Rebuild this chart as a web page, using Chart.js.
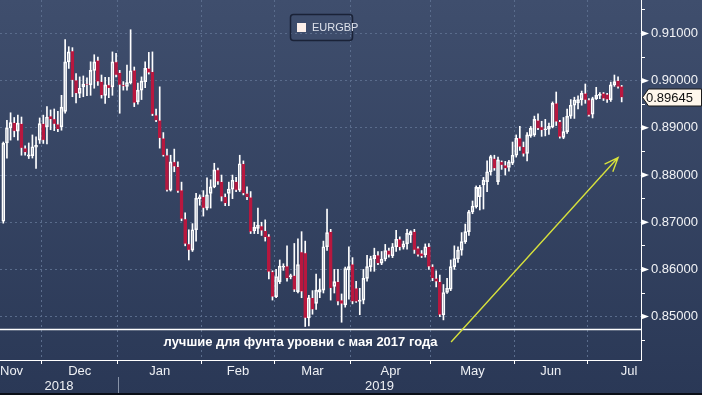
<!DOCTYPE html>
<html>
<head>
<meta charset="utf-8">
<script src="https://cdn.jsdelivr.net/npm/chart.js@4.4.1/dist/chart.umd.min.js"></script>
<style>
  html, body { margin: 0; padding: 0; background: #2e3c5a; }
  #wrap { width: 702px; height: 395px; }
</style>
</head>
<body>
<div id="wrap"><canvas id="chart1" width="702" height="395"></canvas></div>
<script>
// EURGBP daily candles, mid Nov 2018 - mid Jul 2019
const seriesName = 'EURGBP';

const opens = [
  0.8702, 0.8868, 0.8900, 0.8911, 0.8893, 0.8909, 0.8857, 0.8840, 0.8841, 0.8859,
  0.8874, 0.8909, 0.8902, 0.8925, 0.8919, 0.8908, 0.8902, 0.8935, 0.9040, 0.9063,
  0.9001, 0.8973, 0.8987, 0.8993, 0.8991, 0.9022, 0.9043, 0.8998, 0.8969, 0.8991,
  0.8987, 0.9040, 0.9017, 0.8991, 0.8988, 0.8996, 0.9022, 0.8955, 0.8980, 0.8998,
  0.9026, 0.9019, 0.8927, 0.8916, 0.8878, 0.8842, 0.8768, 0.8828, 0.8818, 0.8768,
  0.8707, 0.8654, 0.8641, 0.8684, 0.8750, 0.8754, 0.8730, 0.8761, 0.8775, 0.8811,
  0.8786, 0.8754, 0.8761, 0.8770, 0.8786, 0.8768, 0.8824, 0.8761, 0.8753, 0.8682,
  0.8687, 0.8692, 0.8682, 0.8670, 0.8595, 0.8542, 0.8574, 0.8605, 0.8607, 0.8584,
  0.8587, 0.8553, 0.8637, 0.8635, 0.8497, 0.8540, 0.8528, 0.8552, 0.8556, 0.8648,
  0.8680, 0.8564, 0.8574, 0.8535, 0.8525, 0.8599, 0.8611, 0.8560, 0.8532, 0.8535,
  0.8581, 0.8606, 0.8623, 0.8630, 0.8613, 0.8622, 0.8640, 0.8629, 0.8648, 0.8664,
  0.8647, 0.8654, 0.8673, 0.8680, 0.8645, 0.8634, 0.8631, 0.8648, 0.8606, 0.8581,
  0.8574, 0.8504, 0.8551, 0.8558, 0.8606, 0.8622, 0.8641, 0.8659, 0.8680, 0.8722,
  0.8733, 0.8754, 0.8779, 0.8786, 0.8807, 0.8835, 0.8786, 0.8828, 0.8821, 0.8816,
  0.8825, 0.8842, 0.8878, 0.8860, 0.8846, 0.8883, 0.8885, 0.8916, 0.8902, 0.8896,
  0.8897, 0.8902, 0.8952, 0.8913, 0.8880, 0.8892, 0.8925, 0.8948, 0.8953, 0.8960,
  0.8973, 0.8959, 0.8929, 0.8962, 0.8969, 0.8973, 0.8971, 0.8960, 0.8991, 0.9000,
  0.8988
];
const highs = [
  0.8870, 0.8916, 0.8932, 0.8922, 0.8927, 0.8923, 0.8862, 0.8868, 0.8885, 0.8881,
  0.8921, 0.8927, 0.8945, 0.8938, 0.8940, 0.8935, 0.8969, 0.9087, 0.9072, 0.9070,
  0.9015, 0.9008, 0.9010, 0.9006, 0.9040, 0.9055, 0.9050, 0.9012, 0.9007, 0.9007,
  0.9061, 0.9058, 0.9022, 0.8998, 0.9033, 0.9108, 0.9029, 0.8995, 0.9008, 0.9040,
  0.9060, 0.9061, 0.8940, 0.8987, 0.8890, 0.8855, 0.8842, 0.8855, 0.8828, 0.8785,
  0.8720, 0.8684, 0.8697, 0.8761, 0.8758, 0.8767, 0.8794, 0.8790, 0.8825, 0.8815,
  0.8800, 0.8760, 0.8785, 0.8800, 0.8795, 0.8842, 0.8830, 0.8775, 0.8765, 0.8700,
  0.8730, 0.8700, 0.8705, 0.8674, 0.8597, 0.8600, 0.8620, 0.8612, 0.8650, 0.8590,
  0.8655, 0.8665, 0.8680, 0.8660, 0.8545, 0.8555, 0.8590, 0.8580, 0.8660, 0.8728,
  0.8685, 0.8600, 0.8600, 0.8548, 0.8605, 0.8648, 0.8625, 0.8575, 0.8560, 0.8600,
  0.8630, 0.8628, 0.8645, 0.8638, 0.8638, 0.8653, 0.8645, 0.8655, 0.8683, 0.8669,
  0.8660, 0.8685, 0.8682, 0.8685, 0.8648, 0.8640, 0.8654, 0.8655, 0.8610, 0.8597,
  0.8588, 0.8568, 0.8581, 0.8620, 0.8650, 0.8648, 0.8678, 0.8696, 0.8725, 0.8745,
  0.8777, 0.8778, 0.8795, 0.8830, 0.8842, 0.8842, 0.8838, 0.8830, 0.8829, 0.8831,
  0.8870, 0.8885, 0.8903, 0.8870, 0.8890, 0.8903, 0.8925, 0.8930, 0.8914, 0.8918,
  0.8910, 0.8955, 0.8976, 0.8916, 0.8922, 0.8940, 0.8960, 0.8965, 0.8968, 0.8978,
  0.8993, 0.8962, 0.8965, 0.8986, 0.8975, 0.8975, 0.8973, 0.8997, 0.9012, 0.9008,
  0.8990
];
const lows = [
  0.8698, 0.8836, 0.8874, 0.8881, 0.8874, 0.8842, 0.8842, 0.8835, 0.8836, 0.8814,
  0.8867, 0.8867, 0.8866, 0.8896, 0.8894, 0.8892, 0.8895, 0.8931, 0.9026, 0.8966,
  0.8953, 0.8964, 0.8966, 0.8968, 0.8969, 0.8984, 0.8990, 0.8963, 0.8952, 0.8964,
  0.8969, 0.9008, 0.8931, 0.8980, 0.8980, 0.8993, 0.8945, 0.8950, 0.8960, 0.8985,
  0.9014, 0.8926, 0.8913, 0.8857, 0.8840, 0.8766, 0.8766, 0.8807, 0.8763, 0.8703,
  0.8650, 0.8620, 0.8638, 0.8660, 0.8736, 0.8713, 0.8726, 0.8730, 0.8773, 0.8780,
  0.8745, 0.8735, 0.8735, 0.8750, 0.8765, 0.8765, 0.8758, 0.8748, 0.8676, 0.8676,
  0.8676, 0.8672, 0.8660, 0.8580, 0.8535, 0.8540, 0.8570, 0.8598, 0.8575, 0.8580,
  0.8553, 0.8550, 0.8540, 0.8479, 0.8480, 0.8505, 0.8515, 0.8540, 0.8550, 0.8640,
  0.8535, 0.8550, 0.8525, 0.8488, 0.8520, 0.8537, 0.8527, 0.8530, 0.8504, 0.8527,
  0.8575, 0.8596, 0.8596, 0.8610, 0.8610, 0.8618, 0.8626, 0.8625, 0.8638, 0.8641,
  0.8643, 0.8643, 0.8657, 0.8634, 0.8628, 0.8625, 0.8626, 0.8600, 0.8576, 0.8563,
  0.8500, 0.8493, 0.8549, 0.8555, 0.8600, 0.8615, 0.8630, 0.8655, 0.8672, 0.8718,
  0.8730, 0.8726, 0.8728, 0.8765, 0.8800, 0.8810, 0.8780, 0.8812, 0.8800, 0.8808,
  0.8822, 0.8838, 0.8852, 0.8840, 0.8830, 0.8880, 0.8882, 0.8896, 0.8882, 0.8883,
  0.8886, 0.8900, 0.8905, 0.8878, 0.8877, 0.8888, 0.8920, 0.8920, 0.8940, 0.8948,
  0.8952, 0.8925, 0.8921, 0.8960, 0.8962, 0.8958, 0.8954, 0.8956, 0.8988, 0.8984,
  0.8955
];
const closes = [
  0.8867, 0.8900, 0.8911, 0.8893, 0.8910, 0.8857, 0.8848, 0.8843, 0.8860, 0.8863,
  0.8909, 0.8874, 0.8923, 0.8918, 0.8908, 0.8897, 0.8944, 0.9040, 0.9061, 0.9001,
  0.8973, 0.8984, 0.8993, 0.8991, 0.9022, 0.9040, 0.8998, 0.8969, 0.8991, 0.8984,
  0.9040, 0.9012, 0.8991, 0.8988, 0.8996, 0.9021, 0.8953, 0.8980, 0.8999, 0.9026,
  0.9017, 0.8929, 0.8916, 0.8878, 0.8842, 0.8768, 0.8828, 0.8818, 0.8766, 0.8707,
  0.8654, 0.8641, 0.8684, 0.8751, 0.8754, 0.8730, 0.8758, 0.8775, 0.8811, 0.8786,
  0.8754, 0.8740, 0.8770, 0.8789, 0.8768, 0.8824, 0.8761, 0.8753, 0.8680, 0.8689,
  0.8694, 0.8682, 0.8668, 0.8595, 0.8542, 0.8585, 0.8607, 0.8607, 0.8581, 0.8587,
  0.8557, 0.8610, 0.8553, 0.8497, 0.8540, 0.8515, 0.8556, 0.8557, 0.8648, 0.8678,
  0.8560, 0.8574, 0.8532, 0.8527, 0.8602, 0.8606, 0.8532, 0.8532, 0.8535, 0.8581,
  0.8606, 0.8623, 0.8630, 0.8613, 0.8622, 0.8640, 0.8631, 0.8648, 0.8664, 0.8647,
  0.8654, 0.8677, 0.8680, 0.8641, 0.8631, 0.8628, 0.8648, 0.8606, 0.8581, 0.8574,
  0.8504, 0.8551, 0.8560, 0.8606, 0.8623, 0.8641, 0.8659, 0.8680, 0.8722, 0.8734,
  0.8774, 0.8774, 0.8789, 0.8807, 0.8839, 0.8814, 0.8832, 0.8821, 0.8814, 0.8828,
  0.8842, 0.8878, 0.8860, 0.8845, 0.8885, 0.8899, 0.8918, 0.8899, 0.8895, 0.8898,
  0.8903, 0.8952, 0.8913, 0.8881, 0.8892, 0.8925, 0.8948, 0.8959, 0.8960, 0.8973,
  0.8959, 0.8927, 0.8962, 0.8969, 0.8971, 0.8962, 0.8960, 0.8991, 0.8998, 0.8987,
  0.89645
];

const lastPrice = 0.89645;
const supportLevel = 0.8474;
const noteText = 'лучшие для фунта уровни с мая 2017 года';

// months on the time axis and their trading days
const monthNames = ['Nov', 'Dec', 'Jan', 'Feb', 'Mar', 'Apr', 'May', 'Jun', 'Jul'];
const monthDays  = [22, 21, 23, 20, 21, 22, 23, 20, 23];
const daysBeforeFirst = 11;   // November sessions before the first candle
const yearNames  = ['2018', '2019'];
const yearFirstMonth = [0, 2];

const yTicks = [0.845, 0.85, 0.855, 0.86, 0.865, 0.87, 0.875, 0.88, 0.885, 0.89, 0.895, 0.90, 0.905, 0.91, 0.915];

const bgTop = '#3f4e6d', bgBottom = '#2a3856';
const gridColor = '#5a6c8c';
const bearColor = '#b8183f';
const arrowColor = '#d6e03c';
const fontFamily = '"Liberation Sans", Arial, sans-serif';

Chart.defaults.font.family = fontFamily;

// month starts in candle-index units
const monthStart = [];
let acc = -0.5 - daysBeforeFirst;
for (let i = 0; i < monthDays.length; i++) {
  monthStart.push(acc);
  acc += monthDays[i];
}
const monthEnd = monthStart.map((s, i) => s + monthDays[i]);

const isMajor = v => Math.abs(v * 100 - Math.round(v * 100)) < 1e-6;

const wickHi = highs.map((h, i) => ({ x: i, y: [Math.max(opens[i], closes[i]), h] }));
const wickLo = lows.map((l, i) => ({ x: i, y: [l, Math.min(opens[i], closes[i])] }));
const bodies = opens.map((o, i) => ({ x: i, y: [o, closes[i]] }));
const isBull = i => closes[i] >= opens[i];

const notePos  = { x: 81.7, y: 0.8446 };
const arrowPos = { x1: 123.1, y1: 0.8446, x2: 169.0, y2: 0.8837 };

// drop the label overhang padding so the plot fills the canvas
const noPad = s => {
  s.paddingTop = 0; s.paddingBottom = 0;
  s.paddingLeft = 0; s.paddingRight = 0;
};

const decor = {
  id: 'decor',
  beforeDraw(chart) {
    const c = chart.ctx;
    const g = c.createLinearGradient(0, 0, 0, chart.height);
    g.addColorStop(0, bgTop);
    g.addColorStop(1, bgBottom);
    c.save();
    c.fillStyle = g;
    c.fillRect(0, 0, chart.width, chart.height);
    c.restore();
  },
  afterDraw(chart) {
    const c = chart.ctx;
    const xs = chart.scales.x, ys = chart.scales.y;
    const area = chart.chartArea;
    c.save();

    // support line + note
    const sy = Math.round(ys.getPixelForValue(supportLevel)) + 0.5;
    c.strokeStyle = '#ffffff';
    c.lineWidth = 1.5;
    c.beginPath();
    c.moveTo(area.left, sy);
    c.lineTo(area.right, sy);
    c.stroke();

    c.fillStyle = '#ffffff';
    c.font = 'bold 13px ' + fontFamily;
    c.textAlign = 'center';
    c.textBaseline = 'middle';
    c.fillText(noteText, xs.getPixelForValue(notePos.x), ys.getPixelForValue(notePos.y));

    // arrow
    const ax1 = xs.getPixelForValue(arrowPos.x1), ay1 = ys.getPixelForValue(arrowPos.y1);
    const ax2 = xs.getPixelForValue(arrowPos.x2), ay2 = ys.getPixelForValue(arrowPos.y2);
    const ang = Math.atan2(ay2 - ay1, ax2 - ax1);
    c.strokeStyle = arrowColor;
    c.lineWidth = 1.4;
    c.beginPath();
    c.moveTo(ax1, ay1);
    c.lineTo(ax2, ay2);
    c.moveTo(ax2 - 15 * Math.cos(ang - 0.38), ay2 - 15 * Math.sin(ang - 0.38));
    c.lineTo(ax2, ay2);
    c.lineTo(ax2 - 15 * Math.cos(ang + 0.38), ay2 - 15 * Math.sin(ang + 0.38));
    c.stroke();

    // legend box
    c.strokeStyle = '#1a2237';
    c.lineWidth = 1.5;
    c.beginPath();
    c.roundRect(290.5, 14.5, 62, 26, 3);
    c.stroke();
    c.fillStyle = '#fdf0ea';
    c.fillRect(297, 23, 9, 9);
    c.fillStyle = '#dde1ea';
    c.font = '11px "Liberation Sans Narrow", ' + fontFamily;
    c.textAlign = 'left';
    c.fillText(seriesName, 312, 28);

    // pointers on major y ticks
    c.fillStyle = '#ffffff';
    yTicks.filter(isMajor).forEach(v => {
      const y = ys.getPixelForValue(v);
      c.beginPath();
      c.moveTo(area.right, y - 3);
      c.lineTo(area.right + 8, y);
      c.lineTo(area.right, y + 3);
      c.closePath();
      c.fill();
    });

    // last price tag
    const py = Math.round(ys.getPixelForValue(lastPrice)) + 0.5;
    c.fillStyle = '#fff7ec';
    c.strokeStyle = '#1a1a1a';
    c.lineWidth = 1;
    c.beginPath();
    c.moveTo(area.right + 1.5, py);
    c.lineTo(area.right + 7.5, py - 8.5);
    c.lineTo(chart.width - 0.5, py - 8.5);
    c.lineTo(chart.width - 0.5, py + 8.5);
    c.lineTo(area.right + 7.5, py + 8.5);
    c.closePath();
    c.fill();
    c.stroke();
    c.fillStyle = '#111111';
    c.font = '13px ' + fontFamily;
    c.fillText(lastPrice.toFixed(5), area.right + 5, py + 0.5);

    // month labels
    c.fillStyle = '#eef0f4';
    c.font = '13px ' + fontFamily;
    c.textAlign = 'center';
    const ly = area.bottom + 11;
    monthNames.forEach((m, i) => {
      const w = c.measureText(m).width;
      let x = xs.getPixelForValue((monthStart[i] + monthEnd[i]) / 2);
      x = Math.max(area.left + w / 2, Math.min(area.right - w / 2 - 1, x));
      c.fillText(m, x, ly);
    });

    // year labels + separator
    const yy = area.bottom + 26;
    yearNames.forEach((yr, k) => {
      const a = k === 0 ? area.left : xs.getPixelForValue(monthStart[yearFirstMonth[k]]);
      const b = k + 1 < yearNames.length ? xs.getPixelForValue(monthStart[yearFirstMonth[k + 1]]) : area.right;
      c.fillText(yr, (a + b) / 2, yy);
      if (k > 0) {
        c.strokeStyle = '#8893a8';
        c.lineWidth = 1;
        c.beginPath();
        c.moveTo(Math.round(a) + 0.5, area.bottom + 17);
        c.lineTo(Math.round(a) + 0.5, chart.height);
        c.stroke();
      }
    });

    c.fillStyle = '#0b0f18';
    c.fillRect(0, chart.height - 2, chart.width, 2);
    c.restore();
  }
};

const data = {
  datasets: [
    {
      label: seriesName + ' high',
      data: wickHi,
      backgroundColor: '#ffffff',
      barThickness: 1,
      grouped: false
    },
    {
      label: seriesName + ' low',
      data: wickLo,
      backgroundColor: '#ffffff',
      barThickness: 1,
      grouped: false
    },
    {
      label: seriesName,
      data: bodies,
      backgroundColor: ctx => isBull(ctx.dataIndex) ? 'rgba(0,0,0,0)' : bearColor,
      borderColor: ctx => isBull(ctx.dataIndex) ? '#ffffff' : bearColor,
      borderWidth: 1,
      borderSkipped: false,
      barThickness: 3,
      minBarLength: 1,
      grouped: false
    }
  ]
};

const config = {
  type: 'bar',
  data: data,
  options: {
    responsive: false,
    animation: false,
    devicePixelRatio: 1,
    layout: { padding: 0 },
    plugins: {
      legend: { display: false },
      tooltip: { enabled: false }
    },
    scales: {
      x: {
        type: 'linear',
        min: -0.907,
        max: 175.31,
        offset: false,
        afterFit: s => { s.height = 35; noPad(s); },
        afterBuildTicks: s => {
          s.ticks = monthStart.slice(1).map(v => ({ value: v }));
        },
        ticks: { callback: () => '', autoSkip: false, maxRotation: 0 },
        grid: {
          offset: false,
          color: gridColor,
          tickColor: '#ffffff',
          tickLength: 4
        },
        border: { color: '#ffffff', width: 1, dash: [2, 3] }
      },
      y: {
        position: 'right',
        min: 0.8408,
        max: 0.9171,
        afterFit: s => { s.width = 61; noPad(s); },
        afterBuildTicks: s => {
          s.ticks = yTicks.map(v => ({ value: v }));
        },
        ticks: {
          color: '#f2f3f6',
          font: { size: 13 },
          padding: 6,
          callback: v => isMajor(v) ? v.toFixed(5) : ''
        },
        grid: {
          color: ctx => (ctx.tick && isMajor(ctx.tick.value)) ? gridColor : 'rgba(0,0,0,0)',
          tickColor: '#ffffff',
          tickLength: 4
        },
        border: { color: '#ffffff', width: 1, dash: [2, 3] }
      }
    }
  },
  plugins: [decor]
};

const myChart = new Chart(document.getElementById('chart1').getContext('2d'), config);
</script>
</body>
</html>
